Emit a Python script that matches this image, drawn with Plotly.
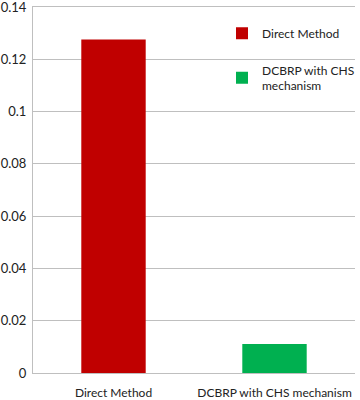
import plotly.graph_objects as go

categories = ["Direct Method", "DCBRP with CHS mechanism"]
values = [0.1276, 0.0111]
legend_names = ["Direct Method", "DCBRP with CHS<br>mechanism"]
colors = ["#c00000", "#00b050"]
y_ticks = [0, 0.02, 0.04, 0.06, 0.08, 0.1, 0.12, 0.14]
y_tick_text = ["0", "0.02", "0.04", "0.06", "0.08", "0.1", "0.12", "0.14"]

fig = go.Figure()
for i, (cat, val, name, col) in enumerate(zip(categories, values, legend_names, colors)):
    fig.add_trace(go.Bar(
        x=[cat], y=[val], name=name, marker=dict(color=col, line=dict(width=0)),
        width=0.4, legendgroup=f"g{i}",
    ))

fig.update_layout(
    width=360, height=400,
    margin=dict(l=33, r=0, t=7, b=27),
    barmode="overlay",
    plot_bgcolor="white", paper_bgcolor="white",
    font=dict(family="Lato", size=12, color="#222222"),
    showlegend=True,
    legend=dict(
        x=0.578, y=0.968, xanchor="left", yanchor="top",
        bgcolor="rgba(0,0,0,0)", font=dict(size=12),
        traceorder="grouped", tracegroupgap=18,
        itemwidth=30,
    ),
    xaxis=dict(
        domain=[0, 322 / 327],
        showgrid=False, showline=True, linecolor="#bfbfbf", linewidth=1,
        mirror=True,
        ticks="", tickfont=dict(size=12), automargin=False,
        ticklabelstandoff=9,
    ),
    yaxis=dict(
        range=[0, 0.14], tickvals=y_ticks, ticktext=y_tick_text,
        showgrid=True, gridcolor="#bfbfbf", gridwidth=1,
        showline=True, linecolor="#bfbfbf", linewidth=1,
        zeroline=False, ticks="", tickfont=dict(size=13), automargin=False,
        ticklabelstandoff=3, ticklabeloverflow="allow",
    ),
)

fig.write_html("out.html", post_script="document.body.style.margin='0';",
               config={"displayModeBar": False})
